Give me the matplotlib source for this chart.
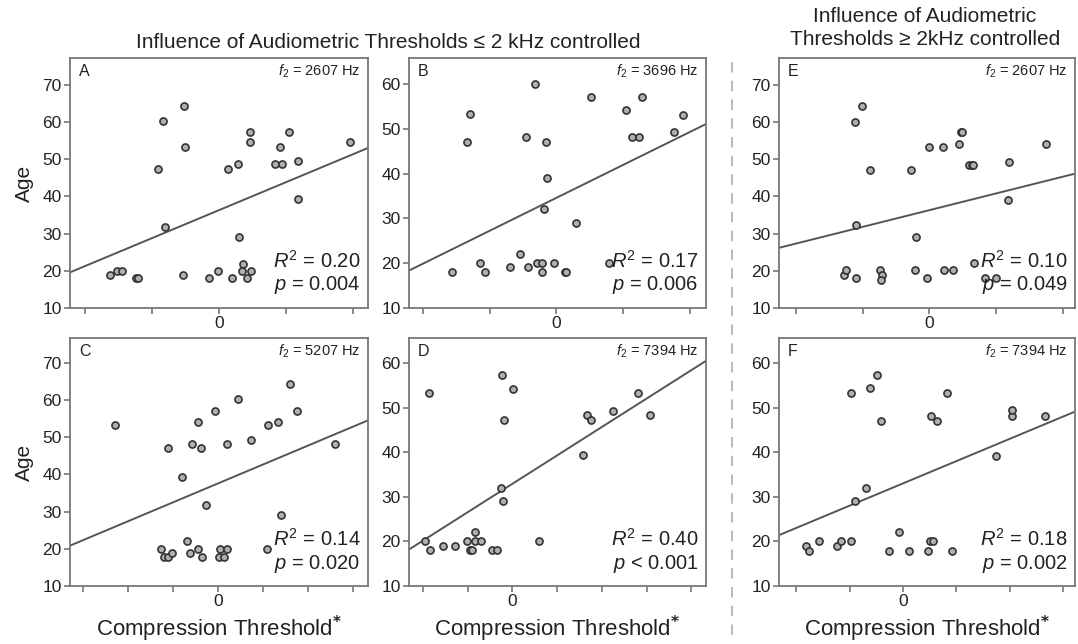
import numpy as np
import matplotlib
matplotlib.use("Agg")
import matplotlib.pyplot as plt
from matplotlib.lines import Line2D

plt.rcParams['font.family'] = ['Liberation Sans', 'DejaVu Sans']
plt.rcParams['mathtext.fontset'] = 'custom'
plt.rcParams['mathtext.rm'] = 'Liberation Sans'
plt.rcParams['mathtext.it'] = 'Liberation Sans:italic'

# compression threshold (relative units) vs age
A_x = [-1.63, -1.52, -1.44, -1.23, -1.20, -0.91, -0.84, -0.81, -0.52, -0.50, -0.54, -0.15, -0.01, 0.14, 0.29,
       0.30, 0.20, 0.36, 0.35, 0.41, 0.48, 0.46, 0.46, 0.83, 0.94, 0.91, 1.05, 1.18, 1.18, 1.95]
A_y = [19, 20, 20, 18, 18, 47.3, 60.4, 31.9, 64.4, 53.4, 19, 18, 20, 47.3, 48.6,
       29, 18, 21.9, 20, 18, 20, 57.4, 54.5, 48.6, 48.6, 53.4, 57.4, 49.4, 39.3, 54.5]

B_x = [-1.57, -1.34, -1.30, -1.15, -1.07, -0.70, -0.54, -0.42, -0.45, -0.32, -0.29, -0.22, -0.21, -0.18,
       -0.16, -0.14, -0.03, 0.13, 0.14, 0.29, 0.52, 0.79, 1.04, 1.13, 1.23, 1.28, 1.76, 1.90]
B_y = [18, 47.1, 53.2, 20, 18, 19.1, 22, 19.1, 48.1, 60.1, 20, 20, 18, 32,
       47.1, 39.1, 20, 18, 18, 29, 57.2, 20, 54.1, 48.1, 48.1, 57.2, 49.2, 53.1]

C_x = [-2.30, -1.26, -1.21, -1.11, -1.03, -1.12, -0.81, -0.68, -0.62, -0.59, -0.45, -0.45, -0.38, -0.36, -0.27,
       -0.07, 0.01, 0.04, 0.13, 0.20, 0.20, 0.45, 0.74, 1.08, 1.11, 1.34, 1.40, 1.60, 1.75, 2.59]
C_y = [53.3, 20, 17.9, 17.9, 19, 47.2, 39.2, 22, 19, 48.2, 54.2, 20, 47.2, 17.9, 31.9,
       57.1, 17.9, 20, 17.9, 20, 48.2, 60.2, 49.3, 20, 53.2, 54.2, 29.1, 64.2, 57.1, 48.2]

D_x = [-1.96, -1.87, -1.84, -1.55, -1.28, -1.02, -0.94, -0.90, -0.83, -0.83, -0.71, -0.45, -0.35,
       -0.26, -0.24, -0.21, -0.19, 0.02, 0.59, 1.59, 1.68, 1.76, 2.25, 2.81, 3.08]
D_y = [20, 53.2, 18, 19, 19, 20, 18, 18, 22, 20, 20, 18, 18,
       32, 57.2, 29, 47.3, 54.2, 20, 39.3, 48.3, 47.3, 49.3, 53.2, 48.3]

E_x = [-1.28, -1.25, -1.10, -1.12, -1.01, -1.10, -0.89, -0.74, -0.71, -0.73, -0.27, -0.20, -0.22, -0.03, 0.0,
       0.20, 0.22, 0.36, 0.45, 0.48, 0.49, 0.60, 0.64, 0.66, 0.67, 0.84, 1.00, 1.19, 1.18, 1.75]
E_y = [19, 20.1, 18.1, 60.1, 64.2, 32.2, 47.1, 20.1, 19, 17.6, 47.1, 29.2, 20.1, 18.1, 53.2,
       53.2, 20.1, 20.1, 54.1, 57.2, 57.2, 48.4, 48.4, 48.4, 22.1, 18.1, 18.1, 49.2, 38.9, 54.1]

F_x = [-1.81, -1.76, -1.58, -1.23, -1.16, -0.97, -0.98, -0.90, -0.69, -0.61, -0.48, -0.41, -0.26,
       -0.07, 0.11, 0.46, 0.50, 0.56, 0.52, 0.63, 0.83, 0.91, 1.75, 2.04, 2.04, 2.66]
F_y = [19, 17.9, 20, 19, 20, 20, 53.3, 29, 31.9, 54.3, 57.3, 47.1, 17.9,
       22, 17.9, 17.9, 20, 20, 48.2, 47.1, 53.3, 17.9, 39.2, 48.2, 49.4, 48.2]

panel_letters = ['A', 'B', 'C', 'D', 'E', 'F']
freqs = [2607, 3696, 5207, 7394, 2607, 7394]
r2_text = ['0.20', '0.17', '0.14', '0.40', '0.10', '0.18']
p_text = ['= 0.004', '= 0.006', '= 0.020', '< 0.001', '= 0.049', '= 0.002']
# fitted lines (slope, intercept) as drawn in the figure
slopes = [7.53, 7.35, 5.09, 6.37, 4.5, 5.0]
intercepts = [36.3, 34.6, 37.6, 32.9, 36.3, 33.0]

xs = [A_x, B_x, C_x, D_x, E_x, F_x]
ys = [A_y, B_y, C_y, D_y, E_y, F_y]

W, H = 1078, 644
fig = plt.figure(figsize=(W / 100, H / 100), dpi=100)

# pixel boxes (left, top, right, bottom)
boxes = [(70, 58, 368, 308), (409, 58, 706, 308), (70, 338, 368, 586),
         (409, 338, 706, 586), (779, 58, 1075, 308), (779, 338, 1075, 586)]
xlims = [(-2.22, 2.22), (-2.21, 2.24), (-3.29, 3.33), (-2.31, 4.33), (-2.25, 2.18), (-2.32, 3.22)]
ylims = [(10, 77.2), (10, 65.8), (10, 76.7), (10, 65.6), (10, 77.2), (10, 65.6)]
xtick_sets = [range(-2, 3), range(-2, 3), range(-3, 4), range(-2, 5), range(-2, 3), range(-2, 4)]

spine_col = '#777777'
text_col = '#222222'

for i in range(6):
    l, t, r, b = boxes[i]
    ax = fig.add_axes([l / W, 1 - b / H, (r - l) / W, (b - t) / H])
    ax.set_xlim(xlims[i])
    ax.set_ylim(ylims[i])

    xx = np.array(xlims[i])
    ax.plot(xx, slopes[i] * xx + intercepts[i], color='#555555', lw=1.4, zorder=2)
    ax.scatter(xs[i], ys[i], s=26, facecolor='#b0b0b0', edgecolor='#333333', linewidth=1.2, zorder=3)

    ticks = list(xtick_sets[i])
    ax.set_xticks(ticks)
    ax.set_xticklabels(['0' if v == 0 else '' for v in ticks])
    top = 70 if ylims[i][1] > 70 else 60
    ax.set_yticks(range(10, top + 1, 10))
    ax.tick_params(direction='out', length=4, width=1.2, color=spine_col,
                   labelsize=12.5, labelcolor=text_col, pad=2)
    for s in ax.spines.values():
        s.set_color(spine_col)
        s.set_linewidth(1.3)

    ax.text(0.03, 0.945, panel_letters[i], transform=ax.transAxes, fontsize=11.5,
            color=text_col, ha='left', va='center')
    ax.text(0.975, 0.945, r'$f_2$ = %d Hz' % freqs[i], transform=ax.transAxes, fontsize=10.5,
            color=text_col, ha='right', va='center')
    ax.text(0.975, 0.19, r'$R^2$ = ' + r2_text[i], transform=ax.transAxes, fontsize=14.5,
            color=text_col, ha='right', va='center')
    ax.text(0.975, 0.09, r'$p$ ' + p_text[i], transform=ax.transAxes, fontsize=14.5,
            color=text_col, ha='right', va='center')

    if i in (0, 2):
        ax.set_ylabel('Age', fontsize=15, color=text_col, labelpad=6)
    if i in (2, 3, 5):
        ax.set_xlabel(r'Compression Threshold$^{\mathbf{*}}$', fontsize=16, color=text_col, labelpad=3)

fig.text(388 / W, 1 - 43 / H, 'Influence of Audiometric Thresholds \u2264 2 kHz controlled',
         fontsize=15, color=text_col, ha='center', va='center')
fig.text(925 / W, 1 - 28 / H, 'Influence of Audiometric\nThresholds \u2265 2kHz controlled',
         fontsize=15, color=text_col, ha='center', va='center', linespacing=1.25)

fig.add_artist(Line2D([732 / W, 732 / W], [1 - 62 / H, 1 - 640 / H], transform=fig.transFigure,
                      color='#bbbbbb', lw=1.5, ls=(0, (5, 4))))

fig.savefig('out.png', dpi=100)
